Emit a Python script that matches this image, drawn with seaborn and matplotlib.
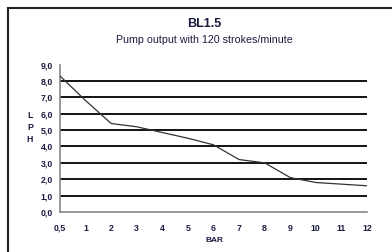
import pandas as pd
import matplotlib
matplotlib.use('Agg')
import matplotlib.pyplot as plt
import seaborn as sns
from matplotlib.patches import Rectangle

# pressure (bar) categories and pump output (litres per hour)
bar_labels = ['0,5', '1', '2', '3', '4', '5', '6', '7', '8', '9', '10', '11', '12']
lph = [8.3, 6.8, 5.4, 5.2, 4.85, 4.5, 4.1, 3.2, 3.0, 2.1, 1.8, 1.7, 1.6]
y_ticks = [0, 1, 2, 3, 4, 5, 6, 7, 8, 9]
y_tick_labels = ['0,0', '1,0', '2,0', '3,0', '4,0', '5,0', '6,0', '7,0', '8,0', '9,0']

df = pd.DataFrame({'bar': bar_labels, 'lph': lph})

sns.set_style('white')
plt.rcParams['font.family'] = ['Liberation Sans', 'DejaVu Sans']

fig = plt.figure(figsize=(3.92, 2.52), dpi=100)
ax = fig.add_axes([60 / 392, 1 - 212 / 252, (367 - 60) / 392, (212 - 64.5) / 252])

# horizontal grid lines at 1..8
for v in y_ticks[1:-1]:
    ax.axhline(v, color='black', linewidth=1.3, zorder=1)

sns.lineplot(data=df, x='bar', y='lph', ax=ax, color='#333333', linewidth=0.9, zorder=3)

ax.set_xlim(0, 12)
ax.set_ylim(0, 9)
ax.set_yticks(y_ticks)
ax.set_yticklabels(y_tick_labels)
ax.set_xlabel('')
ax.set_ylabel('')

for s in ['top', 'right']:
    ax.spines[s].set_visible(False)
for s in ['left', 'bottom']:
    ax.spines[s].set_color('#888888')
    ax.spines[s].set_linewidth(1.2)

ax.tick_params(axis='both', which='both', length=2.5, width=0.8, color='#888888',
               labelsize=6.3, labelcolor='#1a1a40', direction='out')
ax.tick_params(axis='x', pad=6)
ax.tick_params(axis='y', pad=2.5)
for lbl in ax.get_xticklabels() + ax.get_yticklabels():
    lbl.set_fontweight('bold')

fig.text(204 / 392, 1 - 24 / 252, 'BL1.5', ha='center', va='center',
         fontsize=9, fontweight='bold', color='#1a1a40')
fig.text(204 / 392, 1 - 40 / 252, 'Pump output with 120 strokes/minute', ha='center',
         va='center', fontsize=7.7, color='#1a1a40')
fig.text(214 / 392, 1 - 240 / 252, 'BAR', ha='center', va='center',
         fontsize=6, fontweight='bold', color='#1a1a40')
for i, ch in enumerate('LPH'):
    fig.text(30 / 392, 1 - (116 + i * 12) / 252, ch, ha='center', va='center',
             fontsize=6.3, fontweight='bold', color='#1a1a40')

# outer frame (top and left visible, runs off the image right/bottom)
fig.patches.append(Rectangle((8 / 392, -0.2), 1.0, 1.2 - 8 / 252, transform=fig.transFigure,
                             fill=False, edgecolor='#222222', linewidth=1.5))

fig.savefig('out.png', dpi=100)
